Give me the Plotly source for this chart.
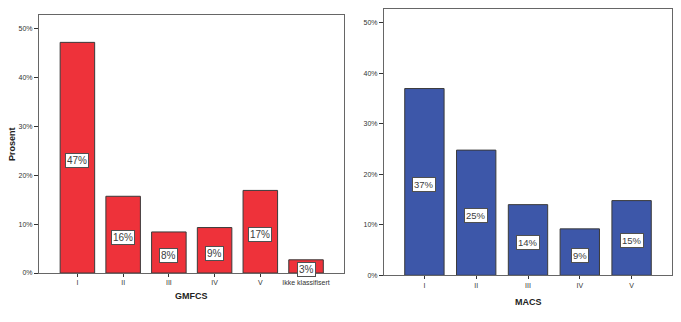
import plotly.graph_objects as go

# GMFCS distribution (percent of children)
gmfcs_levels = ["I", "II", "III", "IV", "V", "Ikke klassifisert"]
gmfcs_pct = [47.2, 15.7, 8.4, 9.3, 16.9, 2.7]

# MACS distribution (percent of children)
macs_levels = ["I", "II", "III", "IV", "V"]
macs_pct = [37.0, 24.8, 14.0, 9.2, 14.8]

y_ticks = [0, 10, 20, 30, 40, 50]
y_tick_labels = [f"{t}%" for t in y_ticks]

W, H = 681, 322
FONT = "Liberation Sans, Arial, sans-serif"
RED = "#EE323A"
BLUE = "#3D57A9"
EDGE = "#3A3A3A"
FRAME = "#666666"


def px_x(v):
    return v / W


def px_y(v):
    return 1 - v / H


fig = go.Figure()

fig.add_trace(go.Bar(
    x=gmfcs_levels, y=gmfcs_pct, width=0.755,
    marker=dict(color=RED, line=dict(color=EDGE, width=1)),
    xaxis="x", yaxis="y", hoverinfo="skip",
))
fig.add_trace(go.Bar(
    x=macs_levels, y=macs_pct, width=0.76,
    marker=dict(color=BLUE, line=dict(color=EDGE, width=1)),
    xaxis="x2", yaxis="y2", hoverinfo="skip",
))

axis_common = dict(
    showline=True, linecolor=FRAME, linewidth=1, mirror=True,
    showgrid=False, zeroline=False, automargin=False,
    tickfont=dict(family=FONT, size=7, color="#333333"),
    ticks="outside", tickcolor="#333333",
)

fig.update_layout(
    template="none",
    width=W, height=H,
    margin=dict(l=0, r=0, t=0, b=0, pad=0),
    paper_bgcolor="white", plot_bgcolor="white",
    showlegend=False,
    xaxis=dict(domain=[px_x(39), px_x(344)], anchor="y",
               range=[-0.84, 5.83], ticklen=3, **axis_common),
    yaxis=dict(domain=[px_y(273), px_y(15)], anchor="x",
               range=[0, 52.8], tickvals=y_ticks, ticktext=y_tick_labels,
               ticklen=4, **axis_common),
    xaxis2=dict(domain=[px_x(384), px_x(672)], anchor="y2",
                range=[-0.78, 4.78], ticklen=3, **axis_common),
    yaxis2=dict(domain=[px_y(275.3), px_y(9.3)], anchor="x2",
                range=[0, 52.7], tickvals=y_ticks, ticktext=y_tick_labels,
                ticklen=4, **axis_common),
)

annotations = []

# value labels in white boxes at half bar height
for cats, vals, xr, yr, fsize in [
    (gmfcs_levels, gmfcs_pct, "x", "y", 10),
    (macs_levels, macs_pct, "x2", "y2", 9.5),
]:
    for c, v in zip(cats, vals):
        annotations.append(dict(
            x=c, y=v / 2, xref=xr, yref=yr, yshift=-3,
            xanchor="center", yanchor="middle",
            text=f"{round(v)}%", showarrow=False,
            font=dict(family=FONT, size=fsize, color="#404040"),
            bgcolor="white", bordercolor="#505050", borderwidth=1, borderpad=1,
        ))

# axis titles
title_font = dict(family=FONT, size=9, color="#222222")
annotations += [
    dict(x=px_x(191.5), y=px_y(296), xref="paper", yref="paper",
         xanchor="center", yanchor="middle",
         text="<b>GMFCS</b>", showarrow=False, font=title_font),
    dict(x=px_x(528), y=px_y(301.5), xref="paper", yref="paper",
         xanchor="center", yanchor="middle",
         text="<b>MACS</b>", showarrow=False, font=title_font),
    dict(x=px_x(12), y=px_y(144), xref="paper", yref="paper",
         xanchor="center", yanchor="middle",
         text="<b>Prosent</b>", showarrow=False, textangle=-90, font=title_font),
]

fig.update_layout(annotations=annotations)

fig.write_html("out.html")
